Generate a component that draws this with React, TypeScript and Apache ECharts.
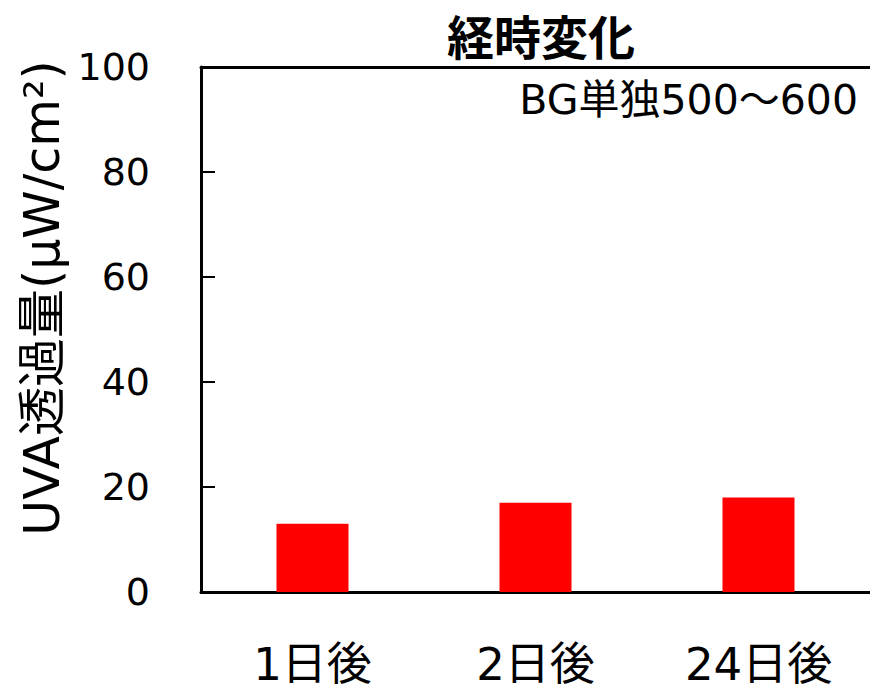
import React, { useEffect, useRef } from "react";
import * as echarts from "echarts";

const categories = ["1日後", "2日後", "24日後"];
const values = [13, 17, 18];
const yTicks = [0, 20, 40, 60, 80, 100];
const titleText = "経時変化";
const noteText = "BG単独500～600";
const yName = "UVA透過量(μW/cm²)";

const FONT = "'DejaVu Sans', 'Noto Sans CJK JP', sans-serif";

export default function App() {
  const ref = useRef<HTMLDivElement>(null);
  useEffect(() => {
    const chart = echarts.init(ref.current!, undefined, { renderer: "svg" });
    chart.setOption({
      animation: false,
      backgroundColor: "#fff",
      title: {
        text: titleText,
        left: 536,
        textAlign: "center",
        top: 6,
        textStyle: { fontFamily: "'Noto Sans CJK JP', sans-serif", fontWeight: "bold", fontSize: 47, color: "#000" },
      },
      grid: {
        left: 201,
        top: 67,
        width: 671,
        height: 525,
      },
      xAxis: [
        {
          type: "category",
          data: categories,
          axisLine: { lineStyle: { color: "#000", width: 3 } },
          axisTick: { show: false },
          axisLabel: { color: "#000", fontSize: 45, fontFamily: FONT, margin: 50 },
        },
        {
          type: "category",
          data: categories,
          position: "top",
          axisLine: { show: true, lineStyle: { color: "#000", width: 3 } },
          axisTick: { show: false },
          axisLabel: { show: false },
        },
      ],
      yAxis: {
        type: "value",
        min: yTicks[0],
        max: yTicks[yTicks.length - 1],
        interval: 20,
        axisLine: { show: true, lineStyle: { color: "#000", width: 3 } },
        axisTick: { show: true, inside: true, length: 14, lineStyle: { color: "#000", width: 2 } },
        splitLine: { show: false },
        axisLabel: { color: "#000", fontSize: 38, fontFamily: FONT, margin: 51 },
      },
      series: [
        {
          type: "bar",
          data: values,
          barWidth: 72,
          itemStyle: { color: "#ff0000" },
        },
      ],
      graphic: [
        {
          type: "text",
          right: 12,
          top: 79,
          style: { text: noteText, fontSize: 41, fontFamily: FONT, fill: "#000" },
        },
        {
          type: "text",
          x: 18,
          y: 298,
          rotation: Math.PI / 2,
          style: {
            text: yName,
            fontSize: 49,
            fontFamily: FONT,
            fill: "#000",
            align: "center",
            verticalAlign: "top",
          },
        },
      ],
    });
    return () => chart.dispose();
  }, []);
  return (
    <div
      ref={ref}
      style={{ position: "absolute", left: 0, top: 0, width: 870, height: 693 }}
    />
  );
}
